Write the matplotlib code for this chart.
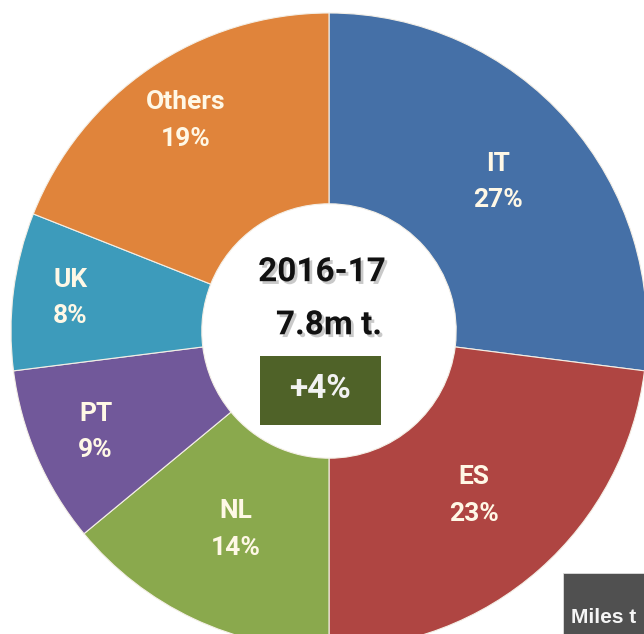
import matplotlib.pyplot as plt
import matplotlib.patheffects as pe
import numpy as np

# market shares 2016-17
countries = ['IT', 'ES', 'NL', 'PT', 'UK', 'Others']
shares = [27, 23, 14, 9, 8, 19]
colors = ['#4570A7', '#AF4542', '#8AA94D', '#71589A', '#3D9BBB', '#E0843B']
label_r = [0.71, 0.69, 0.69, 0.80, 0.82, 0.80]

year = '2016-17'
total = '7.8m t.'
growth = '+4%'
side_box = 'Miles t'

fig = plt.figure(figsize=(6.44, 6.34), dpi=100)
ax = fig.add_axes([0, 0, 1, 1])

wedges, _ = ax.pie(shares, colors=colors, startangle=90, counterclock=False,
                   radius=1.0, wedgeprops=dict(width=0.6, edgecolor='#f4efe6', linewidth=0.8))

for w, c, s, r in zip(wedges, countries, shares, label_r):
    ang = np.deg2rad((w.theta1 + w.theta2) / 2)
    x, y = r * np.cos(ang), r * np.sin(ang)
    ax.text(x, y + 0.057, c, ha='center', va='center', color='#fff8e6',
            fontsize=19, fontweight='bold', family='Roboto')
    ax.text(x, y - 0.057, '%d%%' % s, ha='center', va='center', color='#fff8e6',
            fontsize=19, fontweight='bold', family='Roboto')

shadow = [pe.SimplePatchShadow(offset=(2, -2), shadow_rgbFace='#888888', alpha=0.45), pe.Normal()]
ax.text(-0.022, 0.185, year, ha='center', va='center', fontsize=24, fontweight='bold',
        family='Roboto', color='#111111', path_effects=shadow)
ax.text(0.0, 0.018, total, ha='center', va='center', fontsize=24, fontweight='bold',
        family='Roboto', color='#111111', path_effects=shadow)
ax.add_patch(plt.Rectangle((-0.217, -0.295), 0.38, 0.217, facecolor='#4F6228', edgecolor='none'))
ax.text(-0.027, -0.183, growth, ha='center', va='center', fontsize=24, fontweight='bold',
        family='Roboto', color='#f2f2f2')

# cut-off box at bottom right
ax.add_patch(plt.Rectangle((0.735, -1.0), 0.4, 0.24, facecolor='#505050', edgecolor='#dddddd', lw=0.6))
ax.text(0.762, -0.9, side_box, ha='left', va='center', fontsize=15, fontweight='bold',
        family='Liberation Sans', color='#f5f5f5')

ax.set_xlim(-329 / 318, 315 / 318)
ax.set_ylim(-303 / 318, 331 / 318)
ax.set_aspect('equal')
ax.axis('off')

plt.savefig('out.png', dpi=100)
